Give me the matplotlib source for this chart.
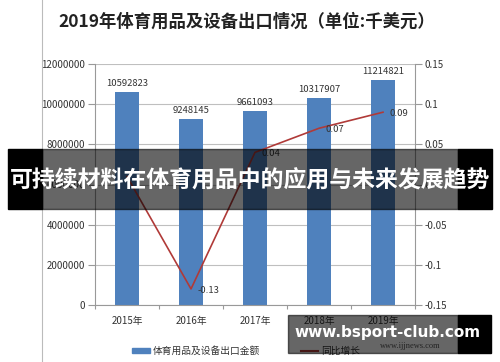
import matplotlib
matplotlib.use("Agg")
import matplotlib.pyplot as plt
from matplotlib.patches import Rectangle
from matplotlib.lines import Line2D

plt.rcParams['font.family'] = ['Noto Sans CJK SC', 'DejaVu Sans']

years = ["2015年", "2016年", "2017年", "2018年", "2019年"]
export_value = [10592823, 9248145, 9661093, 10317907, 11214821]
growth = [0.01, -0.13, 0.04, 0.07, 0.09]
growth_labels = ["", "-0.13", "0.04", "0.07", "0.09"]
left_ticks = [0, 2000000, 4000000, 6000000, 8000000, 10000000, 12000000]
right_ticks = [-0.15, -0.1, -0.05, 0, 0.05, 0.1, 0.15]
right_tick_labels = ["-0.15", "-0.1", "-0.05", "0", "0.05", "0.1", "0.15"]

title = "2019年体育用品及设备出口情况（单位:千美元）"
banner = "可持续材料在体育用品中的应用与未来发展趋势"
watermark = "www.bsport-club.com"

bar_color = "#4F81BD"
line_color = "#B03A38"
grid_color = "#BFBFBF"
text_color = "#333333"

W, H = 500, 362
fig = plt.figure(figsize=(W / 100, H / 100), dpi=100)
fig.patch.set_facecolor("white")


def fx(px):
    return px / W


def fy(py):
    return 1 - py / H


ax = fig.add_axes([fx(95), fy(305), fx(415) - fx(95), fy(64) - fy(305)])
x = list(range(len(years)))
ax.bar(x, export_value, width=0.39, color=bar_color, zorder=2)
ax.set_xlim(-0.5, len(years) - 0.5)
ax.set_ylim(0, 12000000)
ax.set_yticks(left_ticks)
ax.set_yticklabels([str(v) for v in left_ticks])
ax.yaxis.grid(True, color=grid_color, linewidth=0.8, zorder=0)
ax.set_axisbelow(True)
ax.set_xticks([i - 0.5 for i in range(len(years) + 1)], minor=False)
ax.set_xticklabels([])
ax.set_xticks(x, minor=True)
ax.set_xticklabels(years, minor=True)
ax.tick_params(axis="x", which="major", length=3, color="#999999")
ax.tick_params(axis="x", which="minor", length=0, pad=8, labelsize=7, labelcolor=text_color)
ax.tick_params(axis="y", length=5, color="#999999", labelsize=7, labelcolor=text_color, pad=2)
for s in ["top", "right"]:
    ax.spines[s].set_visible(False)
for s in ["left", "bottom"]:
    ax.spines[s].set_color("#999999")
    ax.spines[s].set_linewidth(0.8)

for xi, v in zip(x, export_value):
    ax.annotate(str(v), (xi, v), xytext=(0, 3), textcoords="offset points",
                ha="center", va="bottom", fontsize=6.8, color=text_color)

ax2 = ax.twinx()
ax2.plot(x, growth, color=line_color, linewidth=1.2, zorder=3)
ax2.set_ylim(-0.15, 0.15)
ax2.set_yticks(right_ticks)
ax2.set_yticklabels(right_tick_labels)
ax2.tick_params(axis="y", length=5, color="#999999", labelsize=7, labelcolor=text_color, pad=2)
for s in ["top", "left", "bottom"]:
    ax2.spines[s].set_visible(False)
ax2.spines["right"].set_color("#999999")
ax2.spines["right"].set_linewidth(0.8)
for xi, g, lab in zip(x, growth, growth_labels):
    if lab:
        ax2.annotate(lab, (xi, g), xytext=(5, -1), textcoords="offset points",
                     ha="left", va="center", fontsize=6.8, color=text_color)

fig.text(fx(247), fy(22), title, ha="center", va="center", fontsize=12.5,
         fontweight="bold", color="#222222")

# legend
handles = [Rectangle((0, 0), 1, 1, color=bar_color),
           Line2D([0], [0], color=line_color, linewidth=1.5)]
fig.legend(handles, ["体育用品及设备出口金额", "同比增长"], loc="center",
           bbox_to_anchor=(fx(246), fy(351)), ncol=2, frameon=False,
           fontsize=7, handlelength=1.8, handleheight=0.35, columnspacing=4.2,
           handletextpad=0.3, labelcolor=text_color)

# left border of the embedded chart picture
fig.add_artist(Line2D([fx(42), fx(42)], [0, 1], color="#BBBBBB", linewidth=0.8))

# banner overlay
fig.add_artist(Rectangle((fx(8), fy(209)), fx(42) - fx(8), fy(149) - fy(209),
                         transform=fig.transFigure, color="black", zorder=10))
fig.add_artist(Rectangle((fx(458), fy(209)), fx(492) - fx(458), fy(149) - fy(209),
                         transform=fig.transFigure, color="black", zorder=10))
fig.add_artist(Rectangle((fx(42), fy(209)), fx(458) - fx(42), fy(149) - fy(209),
                         transform=fig.transFigure, color="black", alpha=0.6, zorder=10))
fig.text(fx(250), fy(181), banner, ha="center", va="center", fontsize=16.5,
         fontweight="bold", color="white", zorder=11)

# watermark overlay
fig.add_artist(Rectangle((fx(288), fy(353)), fx(458) - fx(288), fy(315) - fy(353),
                         transform=fig.transFigure, color="black", alpha=0.6, zorder=10))
fig.add_artist(Rectangle((fx(458), fy(353)), fx(491) - fx(458), fy(315) - fy(353),
                         transform=fig.transFigure, color="black", zorder=10))
fig.text(fx(410), fy(346), "www.ijjnews.com", ha="center", va="center", fontsize=6,
         family="Liberation Serif", color="#222222", zorder=11)
fig.text(fx(388), fy(332), watermark, ha="center", va="center", fontsize=11,
         fontweight="bold", color="white", family="DejaVu Sans", zorder=12)

fig.savefig("out.png", dpi=100)
